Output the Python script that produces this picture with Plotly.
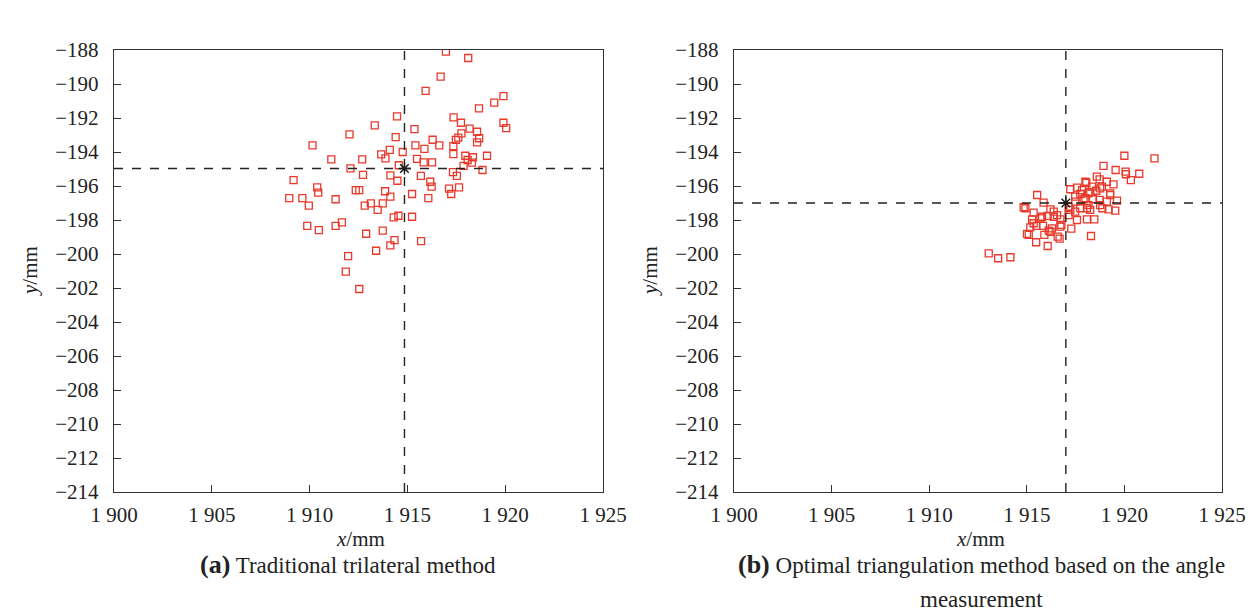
import plotly.graph_objects as go
from plotly.subplots import make_subplots

# (a) Traditional trilateral method
xa = [1916.97, 1918.11, 1916.70, 1915.93, 1919.91, 1919.44, 1918.66, 1914.47, 1917.36, 1917.74,
      1913.33, 1919.91, 1920.05, 1912.04, 1915.36, 1918.18, 1918.56, 1917.76, 1918.67, 1917.60,
      1917.48, 1914.40, 1916.29, 1918.56, 1910.15, 1915.41, 1916.63, 1917.35, 1915.87, 1914.10,
      1913.66, 1914.76, 1917.35, 1919.07, 1917.96, 1918.35, 1913.88, 1911.11, 1912.69, 1915.49,
      1915.83, 1916.26, 1918.08, 1918.30, 1914.56, 1912.09, 1918.84, 1917.87, 1909.18, 1912.73,
      1914.13, 1915.69, 1917.53, 1914.49, 1916.17, 1916.24, 1917.13, 1917.64, 1917.24, 1910.39,
      1910.44, 1912.36, 1912.54, 1913.86, 1914.13, 1915.24, 1908.96, 1909.63, 1909.96, 1911.33,
      1912.82, 1913.13, 1913.74, 1913.48, 1916.07, 1914.30, 1914.54, 1915.24, 1909.88, 1910.47,
      1911.33, 1911.65, 1912.89, 1913.74, 1914.34, 1914.13, 1915.70, 1913.40, 1911.97, 1911.85,
      1912.54, 1917.33]
ya = [-188.10, -188.47, -189.57, -190.41, -190.71, -191.10, -191.43, -191.90, -191.96, -192.28,
      -192.43, -192.28, -192.59, -192.96, -192.66, -192.63, -192.81, -192.90, -193.19, -193.16,
      -193.29, -193.12, -193.28, -193.43, -193.61, -193.61, -193.61, -193.65, -193.82, -193.88,
      -194.14, -194.00, -194.12, -194.22, -194.22, -194.31, -194.37, -194.43, -194.43, -194.41,
      -194.61, -194.61, -194.47, -194.63, -194.78, -194.96, -195.06, -194.82, -195.65, -195.35,
      -195.38, -195.41, -195.41, -195.69, -195.75, -196.04, -196.16, -196.08, -196.47, -196.08,
      -196.39, -196.24, -196.24, -196.31, -196.63, -196.47, -196.71, -196.71, -197.16, -196.78,
      -197.16, -197.02, -197.02, -197.41, -196.71, -197.84, -197.75, -197.81, -198.34, -198.59,
      -198.34, -198.14, -198.81, -198.63, -199.18, -199.49, -199.24, -199.81, -200.12, -201.04,
      -202.06, -195.18]
center_a = (1914.85, -194.97)

# (b) Optimal triangulation method based on the angle measurement
xb = [1920.00, 1921.54, 1918.93, 1919.55, 1920.06, 1920.08, 1920.76, 1920.33, 1918.59, 1918.73,
      1919.10, 1919.44, 1918.05, 1918.34, 1917.57, 1917.83, 1917.23, 1918.56, 1918.85, 1919.27,
      1918.15, 1917.48, 1915.53, 1917.91, 1918.39, 1918.73, 1919.10, 1915.86, 1914.93, 1915.35,
      1916.21, 1916.38, 1917.23, 1917.48, 1918.08, 1918.87, 1919.19, 1919.53, 1915.70, 1916.07,
      1916.38, 1916.72, 1917.14, 1917.57, 1918.08, 1918.46, 1915.27, 1915.18, 1915.49, 1915.83,
      1916.12, 1916.29, 1916.72, 1917.28, 1915.10, 1915.90, 1916.58, 1916.68, 1915.48, 1916.07,
      1918.29, 1913.05, 1913.53, 1914.16, 1914.84, 1915.78, 1915.35, 1915.01, 1916.21, 1916.77,
      1917.74, 1918.16, 1918.00, 1918.76, 1919.27, 1919.62, 1918.25, 1917.74, 1918.00, 1918.76,
      1917.48, 1917.14, 1918.25, 1916.55]
yb = [-194.22, -194.37, -194.82, -195.06, -195.16, -195.31, -195.28, -195.65, -195.45, -195.61,
      -195.75, -195.90, -195.81, -196.04, -196.10, -196.24, -196.19, -196.28, -196.04, -196.43,
      -196.43, -196.63, -196.53, -196.78, -196.78, -196.82, -196.92, -196.98, -197.31, -197.57,
      -197.37, -197.51, -197.41, -197.51, -197.31, -197.31, -197.37, -197.45, -197.90, -197.76,
      -197.81, -197.96, -197.71, -198.00, -197.96, -197.96, -197.96, -198.43, -198.35, -198.35,
      -198.63, -198.49, -198.39, -198.51, -198.88, -198.88, -198.98, -199.10, -199.31, -199.53,
      -198.94, -199.96, -200.25, -200.19, -197.25, -197.81, -198.19, -198.82, -198.69, -198.29,
      -197.31, -197.12, -195.75, -196.14, -196.53, -196.86, -196.34, -196.47, -196.72, -197.12,
      -196.92, -197.22, -197.41, -197.71]
center_b = (1917.0, -197.0)

x_ticks = [1900, 1905, 1910, 1915, 1920, 1925]
x_ticktext = ["1 900", "1 905", "1 910", "1 915", "1 920", "1 925"]
y_ticks = [-188, -190, -192, -194, -196, -198, -200, -202, -204, -206, -208, -210, -212, -214]
y_ticktext = ["\u2212" + str(-v) for v in y_ticks]

W, H = 1260, 612
ML, MR, MT, MB = 0, 0, 50, 120
PH = H - MT - MB

def px(x):
    return x / W

def py(y):
    return (H - MB - y) / PH

FONT = "Liberation Serif"
RED = "#e8392b"
INK = "#222222"

fig = make_subplots(rows=1, cols=2)
fig.update_layout(
    xaxis=dict(domain=[px(114), px(603)]),
    xaxis2=dict(domain=[px(734), px(1222)]),
)

for col, xs, ys, c in [(1, xa, ya, center_a), (2, xb, yb, center_b)]:
    fig.add_trace(go.Scatter(x=xs, y=ys, mode="markers",
                             marker=dict(symbol="square-open", size=7, color=RED,
                                         line=dict(width=1.3, color=RED)),
                             showlegend=False, cliponaxis=True), row=1, col=col)
    fig.add_vline(x=c[0], line=dict(color=INK, width=1.4, dash="dash"), row=1, col=col)
    fig.add_hline(y=c[1], line=dict(color=INK, width=1.4, dash="dash"), row=1, col=col)
    fig.add_trace(go.Scatter(x=[c[0]], y=[c[1]], mode="markers",
                             marker=dict(symbol="asterisk-open", size=10, color="#111111",
                                         line=dict(width=1.4, color="#111111")),
                             showlegend=False), row=1, col=col)
    fig.update_xaxes(range=[1900, 1925], tickvals=x_ticks, ticktext=x_ticktext,
                     ticks="inside", ticklen=7, tickwidth=1.2, tickcolor="#333",
                     showline=True, linecolor="#333", linewidth=1.4, mirror=True,
                     showgrid=False, zeroline=False, automargin=False,
                     ticklabelstandoff=4,
                     tickfont=dict(family=FONT, size=21, color=INK),
                     row=1, col=col)
    fig.update_yaxes(range=[-214, -188], tickvals=y_ticks, ticktext=y_ticktext,
                     ticks="inside", ticklen=7, tickwidth=1.2, tickcolor="#333",
                     showline=True, linecolor="#333", linewidth=1.4, mirror=True,
                     showgrid=False, zeroline=False, automargin=False,
                     ticklabelstandoff=10,
                     tickfont=dict(family=FONT, size=21, color=INK),
                     row=1, col=col)

ann = []
for cx, ylx in [(360, 30), (980, 650)]:
    ann.append(dict(x=px(cx), y=py(539), xref="paper", yref="paper", showarrow=False,
                    xanchor="center", yanchor="middle",
                    text="<i>x</i>/mm", font=dict(family=FONT, size=21, color=INK)))
    ann.append(dict(x=px(ylx), y=py(271), xref="paper", yref="paper", showarrow=False,
                    xanchor="center", yanchor="middle",
                    text="<i>y</i>/mm", textangle=-90, font=dict(family=FONT, size=21, color=INK)))
ann.append(dict(x=px(348), y=py(564), xref="paper", yref="paper", showarrow=False,
                xanchor="center", yanchor="middle",
                text="<b><span style='font-size:26px'>(a)</span></b> Traditional trilateral method",
                font=dict(family=FONT, size=23, color=INK)))
ann.append(dict(x=px(981), y=py(564), xref="paper", yref="paper", showarrow=False,
                xanchor="center", yanchor="middle",
                text="<b><span style='font-size:26px'>(b)</span></b> Optimal triangulation method based on the angle",
                font=dict(family=FONT, size=23, color=INK)))
ann.append(dict(x=px(981), y=py(599), xref="paper", yref="paper", showarrow=False,
                xanchor="center", yanchor="middle",
                text="measurement", font=dict(family=FONT, size=23, color=INK)))

fig.update_layout(width=W, height=H, margin=dict(l=ML, r=MR, t=MT, b=MB),
                  paper_bgcolor="white", plot_bgcolor="white",
                  annotations=ann, showlegend=False)

fig.write_html("out.html", config={"displayModeBar": False},
               post_script="document.body.style.margin='0';document.body.style.overflow='hidden';")
